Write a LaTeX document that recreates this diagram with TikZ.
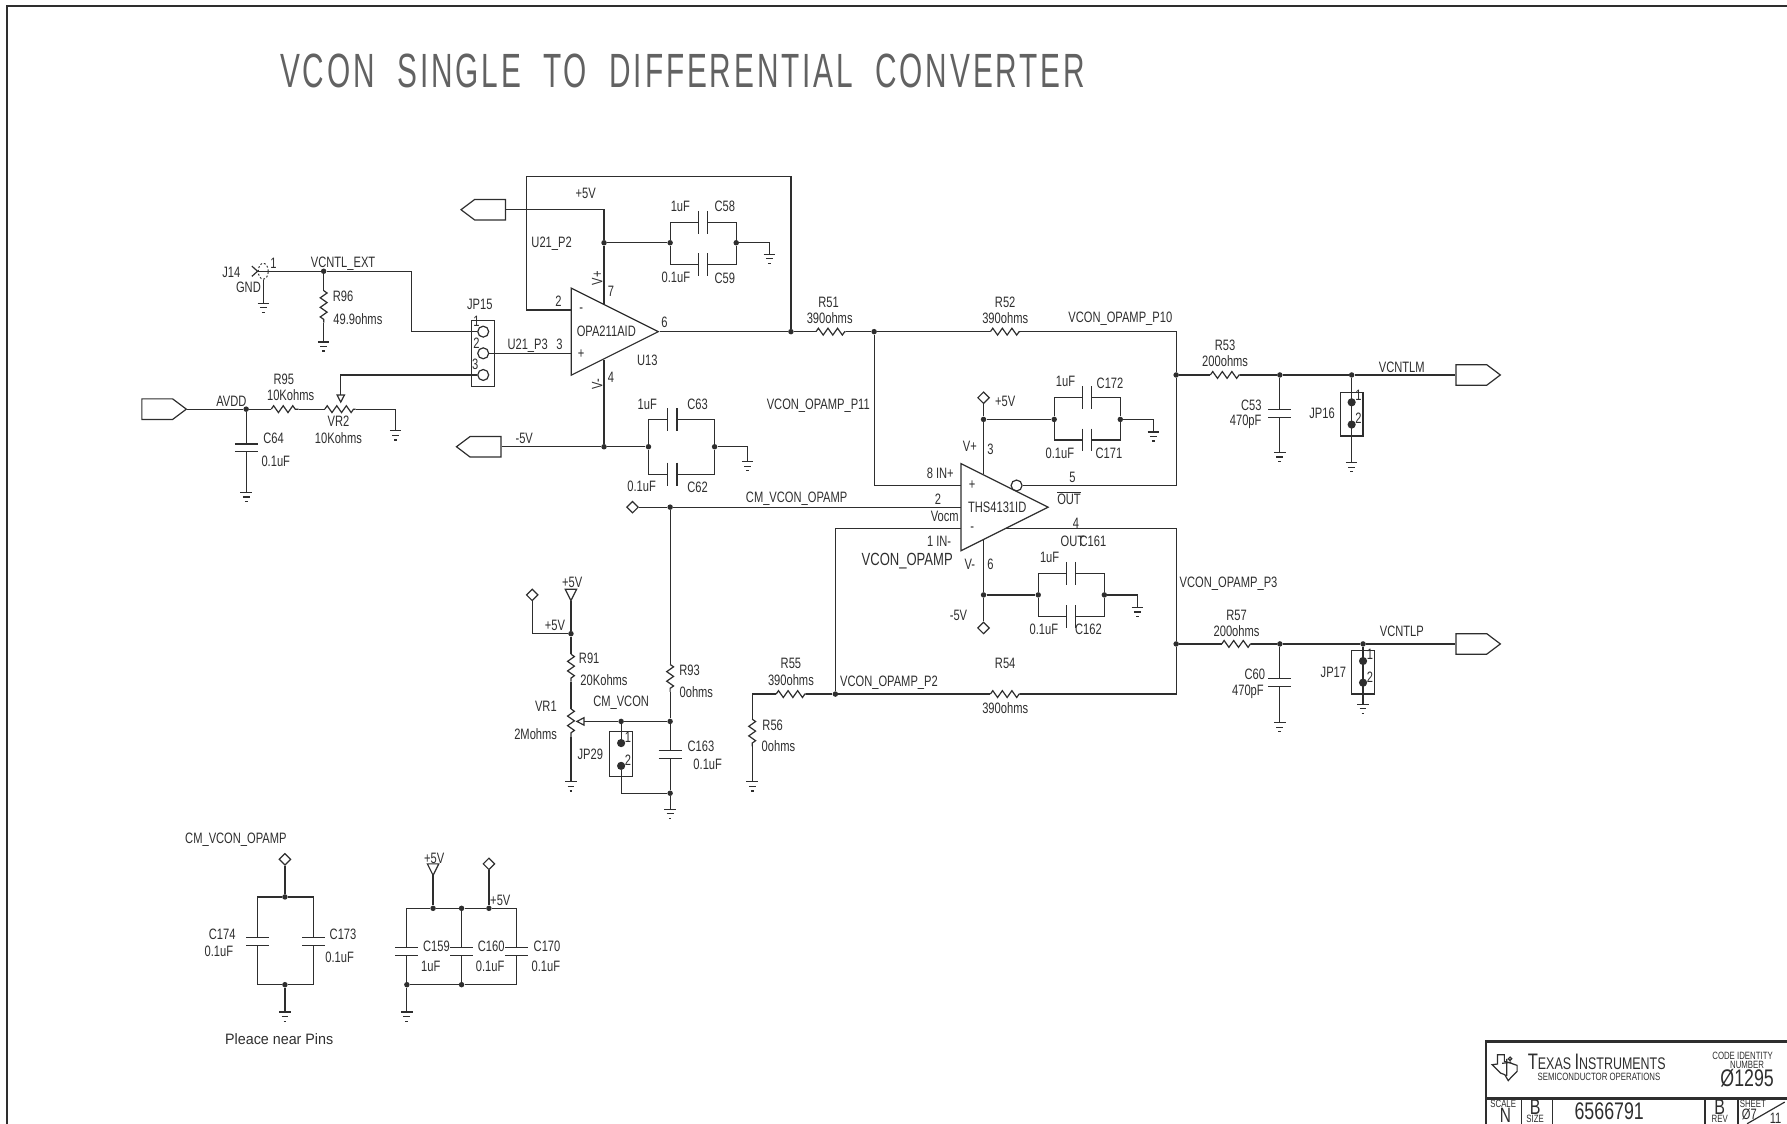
\documentclass[tikz,border=0pt]{standalone}
\usepackage{fontspec}
\newfontfamily\schemfont[FakeStretch=0.74]{Liberation Sans}
\newfontfamily\widefont[FakeStretch=0.95]{Liberation Sans}
\newfontfamily\titlefont[FakeStretch=0.62,LetterSpace=6,WordSpace=2]{Liberation Sans}
\usetikzlibrary{shapes.geometric, shapes.symbols, arrows.meta, decorations.pathmorphing}
\definecolor{ink}{HTML}{2E2E2E}
\tikzset{
	wire/.style={draw=ink, line width=0.75pt},
	res/.style={wire, decorate, decoration={zigzag, amplitude=0.75mm, segment length=2.1mm}},
	rail/.style={draw=ink, line width=1.5pt},
	junction/.style={circle, fill=ink, inner sep=0pt, minimum size=1.2mm},
	pindot/.style={circle, fill=ink, inner sep=0pt, minimum size=1.8mm},
	pinring/.style={circle, draw=ink, line width=0.75pt, inner sep=0pt, minimum size=2.4mm},
	lbl/.style={font=\schemfont\fontsize{9.4}{10}\selectfont, text=ink, inner sep=0pt},
	tiny/.style={lbl, font=\schemfont\fontsize{6.6}{8}\selectfont},
	big/.style={lbl, font=\schemfont\fontsize{15}{16}\selectfont},
	bigb/.style={lbl, font=\schemfont\fontsize{13.5}{14}\selectfont},
	jumper/.style={rectangle, draw=ink, line width=0.75pt, inner sep=0pt, minimum width=5mm},
	porthole/.style={diamond, draw=ink, line width=0.75pt, inner sep=0pt, minimum size=2.6mm},
	portr/.style={signal, signal to=east, signal pointer angle=74, draw=ink, line width=0.75pt,
		inner sep=0pt, minimum width=9.75mm, minimum height=4.5mm},
	portl/.style={portr, signal to=west},
	opamp/.style={isosceles triangle, isosceles triangle stretches, draw=ink, line width=0.75pt,
		inner sep=0pt, minimum width=19.1mm, minimum height=19.1mm, anchor=apex},
	potarrow/.style={wire, -{Triangle[open, length=2mm, width=2mm]}},
	gnd/.pic={
		\coordinate (-t) at (0,0);
		\draw[wire] (-5,0) -- (5,0) (-3,4) -- (3,4) (-1.2,8) -- (1.2,8);
	},
	capv/.pic={
		\coordinate (-a) at (0,-3.5);
		\coordinate (-b) at (0,3.5);
		\draw[wire] (-10,-3.5) -- (10,-3.5) (-10,3.5) -- (10,3.5);
	},
	caph/.pic={
		\coordinate (-a) at (-4,0);
		\coordinate (-b) at (4,0);
		\draw[wire] (-4,-10) -- (-4,10) (4,-10) -- (4,10);
	},
	vsource/.pic={
		\coordinate (-t) at (0,10);
		\draw[wire] (-5,0) -- (5,0) -- (0,10) -- cycle;
	}
}

\begin{document}
\begin{tikzpicture}[x=0.25mm, y=-0.25mm]
	\useasboundingbox (0,0) rectangle (1568,986);
	\draw[rail] (6,986) -- (6,5) -- (1568,5);
	\node (title) [font=\titlefont\fontsize{30}{32}\selectfont, text=ink!75, inner sep=0pt] at (599,62) {VCON SINGLE TO DIFFERENTIAL CONVERTER};

	% Op amps
	\node (u13) [opamp] at (579,291) {};
	\node (u131) [opamp] at (921,445) {};
	\node (ring) [pinring] at (892,426) {};
	\coordinate (u13neg) at (501,272);
	\coordinate (u13pos) at (501,310);
	\coordinate (u13vp) at (530,266.5);
	\coordinate (u13vn) at (530,315.5);
	\coordinate (u131pos) at (843,426);
	\coordinate (u131cm) at (843,445);
	\coordinate (u131neg) at (843,464);
	\coordinate (u131vp) at (863,416);
	\coordinate (u131vn) at (863,474);
	\coordinate (u131out) at (882,464);

	% Ports
	\node (p5v) [portl] at (430,184) {};
	\node (m5v) [portl] at (426,392) {};
	\node (avdd) [portr] at (138,359) {};
	\node (vcntlm) [portr] at (1291,329) {};
	\node (vcntlp) [portr] at (1291,565) {};
	\node (cmport) [porthole] at (555,445) {};
	\node (d5va) [porthole] at (863,349) {};
	\node (dm5v) [porthole] at (863,551) {};
	\node (d5vb) [porthole] at (467,522) {};
	\node (dcm) [porthole] at (250,754) {};
	\node (d5vc) [porthole] at (429,758) {};
	\pic (v5a) at (501,517) {vsource};
	\pic (v5b) at (380,758) {vsource};

	% J14 and JP15
	\node (j14) [ellipse, draw=ink, line width=0.6pt, dash pattern=on 1.2pt off 1.2pt, inner sep=0pt, minimum width=2.2mm, minimum height=3.5mm] at (231,238) {};
	\coordinate (j14a) at (221,233.5);
	\coordinate (j14b) at (226,238);
	\coordinate (j14c) at (221,242.5);
	\draw[wire] (j14a) -- (j14b) -- (j14c);
	\node (jp15) [jumper, minimum height=14.5mm] at (424,310) {};
	\node (jp15a) [pinring] at (424,291) {};
	\node (jp15b) [pinring] at (424,310) {};
	\node (jp15c) [pinring] at (424,329) {};

	% Junctions
	\node (jr96) [junction] at (284,238) {};
	\node (javdd) [junction] at (216,359) {};
	\node (j58) [junction] at (530,213) {};
	\node (j58l) [junction] at (588,213) {};
	\node (j58r) [junction] at (646,213) {};
	\node (j63) [junction] at (530,392) {};
	\node (j63l) [junction] at (569,392) {};
	\node (j63r) [junction] at (627,392) {};
	\node (jfb) [junction] at (694,291) {};
	\node (jp11) [junction] at (767,291) {};
	\node (jp10) [junction] at (1032,329) {};
	\node (jc53) [junction] at (1123,329) {};
	\node (jjp16) [junction] at (1186,329) {};
	\node (j172) [junction] at (863,368) {};
	\node (j172l) [junction] at (925,368) {};
	\node (j172r) [junction] at (983,368) {};
	\node (j161) [junction] at (863,522) {};
	\node (j161l) [junction] at (911,522) {};
	\node (j161r) [junction] at (969,522) {};
	\node (jp3) [junction] at (1032,565) {};
	\node (jc60) [junction] at (1123,565) {};
	\node (jjp17) [junction] at (1196,565) {};
	\node (jp2) [junction] at (733,609) {};
	\node (jcm) [junction] at (588,445) {};
	\node (jcv) [junction] at (588,633) {};
	\node (jjp29) [junction] at (545,633) {};
	\node (jc163) [junction] at (588,696) {};
	\node (jr91) [junction] at (501,556) {};
	\node (jc174t) [junction] at (250,787) {};
	\node (jc174b) [junction] at (250,864) {};
	\node (jc5a) [junction] at (380,797) {};
	\node (jc5b) [junction] at (405,797) {};
	\node (jc5c) [junction] at (429,797) {};
	\node (jc5d) [junction] at (357,864) {};
	\node (jc5e) [junction] at (405,864) {};

	% Resistors
	\coordinate (r96a) at (284,255);
	\coordinate (r96b) at (284,283);
	\coordinate (r95a) at (238,359);
	\coordinate (r95b) at (262,359);
	\coordinate (vr2a) at (285,359);
	\coordinate (vr2b) at (312,359);
	\coordinate (r51a) at (716,291);
	\coordinate (r51b) at (742,291);
	\coordinate (r52a) at (869,291);
	\coordinate (r52b) at (895,291);
	\coordinate (r53a) at (1062,329);
	\coordinate (r53b) at (1088,329);
	\coordinate (r57a) at (1072,565);
	\coordinate (r57b) at (1098,565);
	\coordinate (r54a) at (869,609);
	\coordinate (r54b) at (895,609);
	\coordinate (r55a) at (681,609);
	\coordinate (r55b) at (707,609);
	\coordinate (r56a) at (660,631);
	\coordinate (r56b) at (660,655);
	\coordinate (r93a) at (588,583);
	\coordinate (r93b) at (588,607);
	\coordinate (r91a) at (501,574);
	\coordinate (r91b) at (501,598);
	\coordinate (vr1a) at (501,622);
	\coordinate (vr1b) at (501,647);
	\foreach \a/\b in {r96a/r96b, r95a/r95b, vr2a/vr2b, r51a/r51b, r52a/r52b, r53a/r53b, r57a/r57b, r54a/r54b, r55a/r55b, r56a/r56b, r93a/r93b, r91a/r91b, vr1a/vr1b}
		\draw[res] (\a) -- (\b);

	% Capacitors
	\pic (c58) at (617,195) {caph};
	\pic (c59) at (617,232) {caph};
	\pic (c63) at (590,368) {caph};
	\pic (c62) at (590,416) {caph};
	\pic (c172) at (954,349) {caph};
	\pic (c171) at (954,386) {caph};
	\pic (c161) at (940,503) {caph};
	\pic (c162) at (940,541) {caph};
	\pic (c64) at (216,393) {capv};
	\pic (c53) at (1123,363) {capv};
	\pic (c60) at (1123,599) {capv};
	\pic (c163) at (588,662) {capv};
	\pic (c174) at (226,826) {capv};
	\pic (c173) at (275,826) {capv};
	\pic (c159) at (357,835) {capv};
	\pic (c160) at (405,835) {capv};
	\pic (c170) at (453,835) {capv};

	% Grounds
	\pic (g96) at (284,300) {gnd};
	\pic (gj14) at (231,266) {gnd};
	\pic (gvr2) at (347,378) {gnd};
	\pic (g64) at (216,432) {gnd};
	\pic (g58) at (675,223) {gnd};
	\pic (g63) at (656,405) {gnd};
	\pic (g172) at (1012,379) {gnd};
	\pic (g161) at (998,533) {gnd};
	\pic (g53) at (1123,397) {gnd};
	\pic (gjp16) at (1186,406) {gnd};
	\pic (g60) at (1123,634) {gnd};
	\pic (gjp17) at (1196,618) {gnd};
	\pic (gr56) at (660,686) {gnd};
	\pic (gvr1) at (501,686) {gnd};
	\pic (gc163) at (588,710) {gnd};
	\pic (gc174) at (250,888) {gnd};
	\pic (gc5) at (357,888) {gnd};

	% U13 input side
	\draw[wire] (j14b) -- (jr96) -- ++(77,0) |- (jp15a);
	\draw[wire] (j14.south) -- (gj14-t);
	\draw[wire] (jr96) -- (r96a);
	\draw[wire] (r96b) -- (g96-t);
	\draw[wire] (jp15b) -- (u13pos);
	\draw[potarrow] (jp15c) -| (299,354);
	\draw[wire] (avdd) -- (javdd) -- (r95a);
	\draw[wire] (r95b) -- (vr2a);
	\draw[wire] (vr2b) -| (gvr2-t);
	\draw[wire] (javdd) -- (c64-a);
	\draw[wire] (c64-b) -- (g64-t);
	\draw[wire] (u13neg) -| (462,155) -| (jfb);

	% U13 supplies
	\draw[wire] (p5v) -| (j58);
	\draw[wire] (j58) -- (u13vp);
	\draw[wire] (j58) -- (j58l);
	\draw[wire] (j58l) |- (c58-a);
	\draw[wire] (c58-b) -| (j58r);
	\draw[wire] (j58l) |- (c59-a);
	\draw[wire] (c59-b) -| (j58r);
	\draw[wire] (j58r) -| (g58-t);
	\draw[wire] (u13vn) -- (j63);
	\draw[wire] (m5v) -- (j63) -- (j63l);
	\draw[wire] (j63l) |- (c63-a);
	\draw[wire] (c63-b) -| (j63r);
	\draw[wire] (j63l) |- (c62-a);
	\draw[wire] (c62-b) -| (j63r);
	\draw[wire] (j63r) -| (g63-t);

	% Feedback network
	\draw[wire] (u13.apex) -- (jfb) -- (r51a);
	\draw[wire] (r51b) -- (jp11) -- (r52a);
	\draw[wire] (r52b) -| (jp10);
	\draw[wire] (jp10) |- (ring);
	\draw[wire] (jp11) |- (u131pos);
	\draw[wire] (cmport) -- (jcm) -- (u131cm);
	\draw[wire] (u131neg) -| (jp2);
	\draw[wire] (u131out) -| (jp3);
	\draw[wire] (jp3) |- (r54b);
	\draw[wire] (r54a) -- (jp2) -- (r55b);
	\draw[wire] (r55a) -| (r56a);
	\draw[wire] (r56b) -- (gr56-t);

	% Outputs
	\draw[wire] (jp10) -- (r53a);
	\draw[wire] (r53b) -- (jc53) -- (jjp16) -- (vcntlm);
	\draw[wire] (jc53) -- (c53-a);
	\draw[wire] (c53-b) -- (g53-t);
	\draw[wire] (jjp16) -- (gjp16-t);
	\draw[wire] (jp3) -- (r57a);
	\draw[wire] (r57b) -- (jc60) -- (jjp17) -- (vcntlp);
	\draw[wire] (jc60) -- (c60-a);
	\draw[wire] (c60-b) -- (g60-t);
	\draw[wire] (jjp17) -- (gjp17-t);
	\node (jp16) [jumper, minimum height=9.5mm] at (1186,363.5) {};
	\node (jp16a) [pindot] at (1186,353) {};
	\node (jp16b) [pindot] at (1186,372.5) {};
	\node (jp17) [jumper, minimum height=9.5mm] at (1196,590) {};
	\node (jp17a) [pindot] at (1196,580) {};
	\node (jp17b) [pindot] at (1196,599) {};

	% THS4131 supplies
	\draw[wire] (d5va) -- (j172) -- (u131vp);
	\draw[wire] (j172) -- (j172l);
	\draw[wire] (j172l) |- (c172-a);
	\draw[wire] (c172-b) -| (j172r);
	\draw[wire] (j172l) |- (c171-a);
	\draw[wire] (c171-b) -| (j172r);
	\draw[wire] (j172r) -| (g172-t);
	\draw[wire] (u131vn) -- (j161) -- (dm5v);
	\draw[wire] (j161) -- (j161l);
	\draw[wire] (j161l) |- (c161-a);
	\draw[wire] (c161-b) -| (j161r);
	\draw[wire] (j161l) |- (c162-a);
	\draw[wire] (c162-b) -| (j161r);
	\draw[wire] (j161r) -| (g161-t);

	% Common mode
	\draw[wire] (jcm) -- (r93a);
	\draw[wire] (r93b) -- (jcv);
	\draw[wire] (jcv) -- (c163-a);
	\draw[wire] (c163-b) -- (jc163) -- (gc163-t);
	\draw[wire] (v5a-t) -- (jr91) -- (r91a);
	\draw[wire] (d5vb) |- (jr91);
	\draw[wire] (r91b) -- (vr1a);
	\draw[wire] (vr1b) -- (gvr1-t);
	\draw[potarrow] (jcv) -- (jjp29) -- (505,633);
	\node (jp29) [jumper, minimum height=9.75mm] at (545,661.5) {};
	\node (jp29a) [pindot] at (545,652) {};
	\node (jp29b) [pindot] at (545,672) {};
	\draw[wire] (jjp29) -- (jp29a);
	\draw[wire] (jp29b) |- (jc163);

	% Decoupling
	\draw[wire] (dcm) -- (jc174t);
	\draw[wire] (jc174t) -| (c174-a);
	\draw[wire] (jc174t) -| (c173-a);
	\draw[wire] (c174-b) |- (jc174b);
	\draw[wire] (c173-b) |- (jc174b);
	\draw[wire] (jc174b) -- (gc174-t);
	\draw[wire] (v5b-t) -- (jc5a);
	\draw[wire] (d5vc) -- (jc5c);
	\draw[wire] (c159-a) |- (jc5a) -- (jc5b) -- (jc5c) -| (c170-a);
	\draw[wire] (jc5b) -- (c160-a);
	\draw[wire] (c159-b) -- (jc5d) -- (gc5-t);
	\draw[wire] (jc5d) -- (jc5e) -| (c170-b);
	\draw[wire] (c160-b) -- (jc5e);

	% Labels, U13 side
	\node (lj14) [lbl] at (203,239) {J14};
	\node (lgnd) [lbl] at (218,252) {GND};
	\node (lpin1) [lbl] at (240,231) {1};
	\node (lext) [lbl] at (301,231) {VCNTL\_EXT};
	\node (lr96) [lbl] at (301,260) {R96};
	\node (lr96v) [lbl] at (314,280) {49.9ohms};
	\node (ljp15) [lbl] at (421,267) {JP15};
	\node (ljpa) [lbl] at (418,282) {1};
	\node (ljpb) [lbl] at (418,301) {2};
	\node (ljpc) [lbl] at (417,320) {3};
	\node (lavdd) [lbl] at (203,352) {AVDD};
	\node (lr95) [lbl] at (249,333) {R95};
	\node (lr95v) [lbl] at (255,347) {10Kohms};
	\node (lvr2) [lbl] at (297,370) {VR2};
	\node (lvr2v) [lbl] at (297,384) {10Kohms};
	\node (lc64) [lbl] at (240,385) {C64};
	\node (lc64v) [lbl] at (242,405) {0.1uF};
	\node (lp5v) [lbl] at (514,170) {+5V};
	\node (lu21p2) [lbl] at (484,214) {U21\_P2};
	\node (lu21p3) [lbl] at (463,303) {U21\_P3};
	\node (lc58v) [lbl] at (597,181) {1uF};
	\node (lc58) [lbl] at (636,181) {C58};
	\node (lc59v) [lbl] at (593,243) {0.1uF};
	\node (lc59) [lbl] at (636,244) {C59};
	\node (lvp) [lbl, rotate=90] at (524,244) {V+};
	\node (lvn) [lbl, rotate=90] at (524,337) {V-};
	\node (lu7) [lbl] at (536,256) {7};
	\node (lu2) [lbl] at (490,264) {2};
	\node (lu3) [lbl] at (491,302) {3};
	\node (lu6) [lbl] at (583,283) {6};
	\node (lu4) [lbl] at (536,331) {4};
	\node (lminus) [lbl] at (510,272) {-};
	\node (lplus) [lbl] at (510,311) {+};
	\node (lopa) [lbl] at (532,291) {OPA211AID};
	\node (lu13) [lbl] at (568,316) {U13};
	\node (lm5v) [lbl] at (460,385) {-5V};
	\node (lc63v) [lbl] at (568,355) {1uF};
	\node (lc63) [lbl] at (612,355) {C63};
	\node (lc62v) [lbl] at (563,427) {0.1uF};
	\node (lc62) [lbl] at (612,428) {C62};

	% Labels, THS4131 side
	\node (lr51) [lbl] at (727,265) {R51};
	\node (lr51v) [lbl] at (728,279) {390ohms};
	\node (lr52) [lbl] at (882,265) {R52};
	\node (lr52v) [lbl] at (882,279) {390ohms};
	\node (lp10) [lbl] at (983,280) {VCON\_OPAMP\_P10};
	\node (lp11) [lbl] at (718,356) {VCON\_OPAMP\_P11};
	\node (lr53) [lbl] at (1075,303) {R53};
	\node (lr53v) [lbl] at (1075,317) {200ohms};
	\node (lvcntlm) [lbl] at (1230,322) {VCNTLM};
	\node (lc53) [lbl] at (1098,356) {C53};
	\node (lc53v) [lbl] at (1093,370) {470pF};
	\node (ljp16) [lbl] at (1160,363) {JP16};
	\node (l16a) [lbl] at (1192,347) {1};
	\node (l16b) [lbl] at (1192,367) {2};
	\node (l5va) [lbl] at (882,352) {+5V};
	\node (lc172v) [lbl] at (935,335) {1uF};
	\node (lc172) [lbl] at (974,336) {C172};
	\node (lc171v) [lbl] at (930,398) {0.1uF};
	\node (lc171) [lbl] at (973,398) {C171};
	\node (lvp2) [lbl] at (851,392) {V+};
	\node (lt3) [lbl] at (869,394) {3};
	\node (lin) [lbl] at (825,415) {8 IN+};
	\node (ltp) [lbl] at (853,426) {+};
	\node (lt5) [lbl] at (941,419) {5};
	\node (lout) [lbl] at (938,437) {$\overline{\hbox{OUT}}$};
	\node (lt2) [lbl] at (823,438) {2};
	\node (lvocm) [lbl] at (829,453) {Vocm};
	\node (lcmv) [lbl] at (699,438) {CM\_VCON\_OPAMP};
	\node (lths) [lbl] at (875,445) {THS4131ID};
	\node (ltm) [lbl] at (853,464) {-};
	\node (lt4) [lbl] at (944,459) {4};
	\node (lout2) [lbl] at (941,475) {OUT};
	\node (lc161) [lbl] at (959,475) {C161};
	\node (linn) [lbl] at (824,475) {1 IN-};
	\node (lvcon) [lbl, font=\schemfont\fontsize{11}{12}\selectfont] at (796,492) {VCON\_OPAMP};
	\node (lvn2) [lbl] at (851,495) {V-};
	\node (lt6) [lbl] at (869,495) {6};
	\node (lc161v) [lbl] at (921,489) {1uF};
	\node (lc162v) [lbl] at (916,552) {0.1uF};
	\node (lc162) [lbl] at (955,552) {C162};
	\node (lm5vb) [lbl] at (841,540) {-5V};
	\node (lp3) [lbl] at (1078,512) {VCON\_OPAMP\_P3};
	\node (lr57) [lbl] at (1085,540) {R57};
	\node (lr57v) [lbl] at (1085,554) {200ohms};
	\node (lvcntlp) [lbl] at (1230,554) {VCNTLP};
	\node (lc60) [lbl] at (1101,592) {C60};
	\node (lc60v) [lbl] at (1095,607) {470pF};
	\node (ljp17) [lbl] at (1170,590) {JP17};
	\node (l17a) [lbl] at (1202,574) {1};
	\node (l17b) [lbl] at (1202,594) {2};
	\node (lr54) [lbl] at (882,582) {R54};
	\node (lr54v) [lbl] at (882,621) {390ohms};
	\node (lp2) [lbl] at (780,599) {VCON\_OPAMP\_P2};
	\node (lr55) [lbl] at (694,582) {R55};
	\node (lr55v) [lbl] at (694,597) {390ohms};
	\node (lr56) [lbl] at (678,636) {R56};
	\node (lr56v) [lbl] at (683,655) {0ohms};

	% Labels, common mode
	\node (l5vb) [lbl] at (502,511) {+5V};
	\node (l5vc) [lbl] at (487,549) {+5V};
	\node (lr91) [lbl] at (517,578) {R91};
	\node (lr91v) [lbl] at (530,597) {20Kohms};
	\node (lvr1) [lbl] at (479,620) {VR1};
	\node (lvr1v) [lbl] at (470,644) {2Mohms};
	\node (lcmvc) [lbl] at (545,617) {CM\_VCON};
	\node (ljp29) [lbl] at (518,662) {JP29};
	\node (l29a) [lbl] at (551,647) {1};
	\node (l29b) [lbl] at (551,667) {2};
	\node (lr93) [lbl] at (605,588) {R93};
	\node (lr93v) [lbl] at (611,607) {0ohms};
	\node (lc163) [lbl] at (615,655) {C163};
	\node (lc163v) [lbl] at (621,671) {0.1uF};

	% Labels, decoupling
	\node (lcmo) [lbl] at (207,737) {CM\_VCON\_OPAMP};
	\node (lc174) [lbl] at (195,820) {C174};
	\node (lc174v) [lbl] at (192,835) {0.1uF};
	\node (lc173) [lbl] at (301,820) {C173};
	\node (lc173v) [lbl] at (298,840) {0.1uF};
	\node (lnear) [lbl, font=\widefont\fontsize{9.4}{10}\selectfont] at (245,912) {Pleace near Pins};
	\node (l5vd) [lbl] at (381,753) {+5V};
	\node (l5ve) [lbl] at (439,790) {+5V};
	\node (lc159) [lbl] at (383,830) {C159};
	\node (lc159v) [lbl] at (378,848) {1uF};
	\node (lc160) [lbl] at (431,830) {C160};
	\node (lc160v) [lbl] at (430,848) {0.1uF};
	\node (lc170) [lbl] at (480,830) {C170};
	\node (lc170v) [lbl] at (479,848) {0.1uF};

	% Title block
	\draw[rail] (1568,914) -- (1304,914) -- (1304,986);
	\draw[rail] (1304,964) -- (1568,964);
	\draw[wire] (1335,964) -- (1335,986);
	\draw[wire] (1362,964) -- (1362,986);
	\draw[rail] (1496,964) -- (1496,986);
	\draw[wire] (1525,964) -- (1525,986);
	\draw[wire] (1533,986) -- (1566,967);
	\draw[wire] (1314,925.5) -- (1320,925.5) -- (1320,931.3) -- (1325.4,932.8) -- (1331.2,934.8) -- (1331.2,940) -- (1325.4,945.9) -- (1323.4,948.2) -- (1320.4,943) -- (1316.6,941.5) -- (1313.7,938.6) -- (1309.3,934.2) -- (1314,933.6) -- cycle;
	\draw[wire] (1322,929) -- (1322,944) (1318,933) -- (1326,932) (1325,929) circle (1.5);
	\node (ti) [text=ink, inner sep=0pt, font=\schemfont\fontsize{10.5}{14}\selectfont] at (1401,932) {\fontsize{14}{16}\selectfont T\fontsize{10.5}{14}\selectfont EXAS \fontsize{14}{16}\selectfont I\fontsize{10.5}{14}\selectfont NSTRUMENTS};
	\node (semi) [tiny] at (1403,945) {SEMICONDUCTOR OPERATIONS};
	\node (code) [tiny] at (1529,926.5) {CODE IDENTITY};
	\node (num) [tiny] at (1533,934) {NUMBER};
	\node (cage) [big] at (1533,946) {\O1295};
	\node (scale) [tiny] at (1319,968.5) {SCALE};
	\node (scalev) [lbl, font=\schemfont\fontsize{13}{14}\selectfont] at (1321,978.5) {N};
	\node (size) [bigb] at (1347,971) {B};
	\node (sizel) [tiny] at (1347,982) {SIZE};
	\node (dwg) [big] at (1412,975) {6566791};
	\node (rev) [bigb] at (1509,971) {B};
	\node (revl) [tiny] at (1509,982) {REV};
	\node (sheet) [tiny] at (1538,968.5) {SHEET};
	\node (sheetn) [lbl] at (1535,977.5) {\O7};
	\node (sheetm) [lbl] at (1558,981) {11};
\end{tikzpicture}
\end{document}
